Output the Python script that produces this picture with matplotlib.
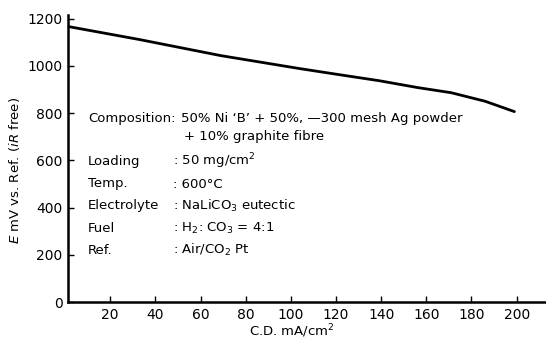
import matplotlib
matplotlib.use("Agg")
import matplotlib.pyplot as plt

# Data
cd = [1.5, 33, 69, 104, 121, 139, 156, 171, 186, 199]
e_mv = [1166, 1111, 1043, 988, 963, 937, 908, 886, 850, 806]
x_ticks = [20, 40, 60, 80, 100, 120, 140, 160, 180, 200]
y_ticks = [0, 200, 400, 600, 800, 1000, 1200]

labels = ["Composition:", "", "Loading", "Temp.", "Electrolyte", "Fuel", "Ref."]
values = ["50% Ni \u2018B\u2019 + 50%, \u2014300 mesh Ag powder",
          "+ 10% graphite fibre",
          ": 50 mg/cm$^2$",
          ": 600\u00b0C",
          ": NaLiCO$_3$ eutectic",
          ": H$_2$: CO$_3$ = 4:1",
          ": Air/CO$_2$ Pt"]

plt.rcParams['font.family'] = ['DejaVu Sans']
plt.rcParams['mathtext.fontset'] = 'dejavusans'

W, H = 546, 343
fig = plt.figure(figsize=(W / 100, H / 100), dpi=100)
left, bottom_px, right_px, top_px = 68, 302, 546, 15
ax = fig.add_axes([left / W, (H - bottom_px) / H, (right_px - left) / W, (bottom_px - top_px) / H])

ax.plot(cd, e_mv, color='black', lw=2.0, solid_capstyle='round')
ax.set_xlim(1.3, 213)
ax.set_ylim(0, 1215)
ax.set_xticks(x_ticks)
ax.set_yticks(y_ticks)
ax.tick_params(direction='in', length=4, width=1, labelsize=10, pad=4)
for s in ['top', 'right']:
    ax.spines[s].set_visible(False)
for s in ['left', 'bottom']:
    ax.spines[s].set_linewidth(1.8)

fig.text(15 / W, 1 - 170 / H, "$E$ mV vs. Ref. ($iR$ free)", rotation=90,
         ha='center', va='center', fontsize=9.5)
fig.text(292 / W, 1 - 331 / H, "C.D. mA/cm$^2$", ha='center', va='center', fontsize=9.5)

rows_y = [118, 136, 161, 184, 206, 228, 250]
fs = 9.5
for lab, val, y in zip(labels, values, rows_y):
    yf = 1 - y / H
    if lab:
        fig.text(88 / W, yf, lab, ha='left', va='center', fontsize=fs)
    if lab == "Composition:":
        fig.text(181 / W, yf, val, ha='left', va='center', fontsize=fs)
    elif lab == "":
        fig.text(184 / W, yf, val, ha='left', va='center', fontsize=fs)
    else:
        fig.text(173 / W, yf, val, ha='left', va='center', fontsize=fs)

fig.savefig("out.png", dpi=100)
